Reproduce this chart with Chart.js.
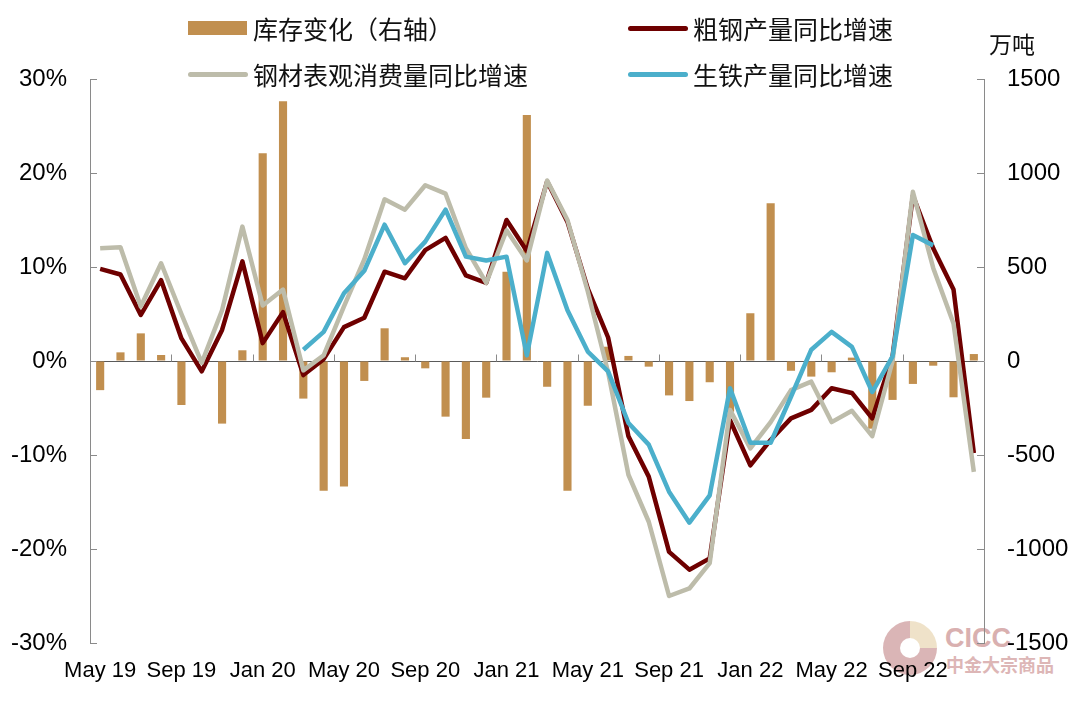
<!DOCTYPE html>
<html>
<head>
<meta charset="utf-8">
<script src="https://cdn.jsdelivr.net/npm/chart.js@4.4.1/dist/chart.umd.min.js"></script>
<style>
    html, body { margin: 0; padding: 0; background: #fff; }
    #wrap { position: relative; width: 1080px; height: 702px; overflow: hidden; }
    #myChart { position: absolute; left: 0; top: 0; }
    .lg { position: absolute; height: 30px; display: flex; align-items: center; white-space: nowrap;
          font: 25px "Noto Sans CJK SC", sans-serif; color: #111; }
    .lg i { display: inline-block; margin-right: 6px; }
    .unit { position: absolute; left: 989px; top: 26px; font: 23px "Noto Sans CJK SC", sans-serif; color: #111; }
    .logo { position: absolute; left: 883px; top: 621px; width: 54px; height: 54px; border-radius: 50%;
            background: conic-gradient(#ecdcbc 0 25%, #d2a3a5 25% 100%); opacity: .8; }
    .logo b { position: absolute; left: 17px; top: 17px; width: 20px; height: 20px; border-radius: 50%; background: #fff; }
    .wm1 { position: absolute; left: 945px; top: 623px; font: bold 27px "Liberation Sans", sans-serif; color: #d9b0b0; }
    .wm2 { position: absolute; left: 946px; top: 651px; font: bold 18px "Noto Sans CJK SC", sans-serif; color: #ddb6b6; }
</style>
</head>
<body>
<div id="wrap">
    <div class="logo"><b></b></div>
    <div class="wm1">CICC</div>
    <div class="wm2">中金大宗商品</div>
    <canvas id="myChart" width="1080" height="702"></canvas>
    <div class="unit">万吨</div>
</div>
<script>
    "use strict";

    // months, May 19 .. Dec 22
    const categories = [
        "May 19", "Jun 19", "Jul 19", "Aug 19", "Sep 19", "Oct 19", "Nov 19", "Dec 19",
        "Jan 20", "Feb 20", "Mar 20", "Apr 20", "May 20", "Jun 20", "Jul 20", "Aug 20",
        "Sep 20", "Oct 20", "Nov 20", "Dec 20", "Jan 21", "Feb 21", "Mar 21", "Apr 21",
        "May 21", "Jun 21", "Jul 21", "Aug 21", "Sep 21", "Oct 21", "Nov 21", "Dec 21",
        "Jan 22", "Feb 22", "Mar 22", "Apr 22", "May 22", "Jun 22", "Jul 22", "Aug 22",
        "Sep 22", "Oct 22", "Nov 22", "Dec 22"
    ];

    // 库存变化 (万吨, right axis)
    const stockChange = [
        -155, 46, 147, 32, -234, 0, -333, 57, 1105, 1381, -200, -690, -668, -106, 174, 20,
        -39, -296, -415, -195, 475, 1309, -137, -690, -238, 76, 27, -30, -183, -213, -113, -270,
        254, 839, -52, -83, -60, 18, -360, -207, -122, -25, -193, 37
    ];

    // 粗钢产量同比增速 (%)
    const crudeSteel = [
        9.8, 9.2, 4.9, 8.6, 2.4, -1.1, 3.3, 10.6, 1.9, 5.2, -1.5, 0.2, 3.6, 4.6, 9.5, 8.8,
        11.8, 13.1, 9.1, 8.3, 15.0, 11.7, 19.1, 14.8, 7.7, 2.5, -8.0, -12.3, -20.3, -22.2, -21.0, -6.3,
        -11.1, -8.4, -6.1, -5.2, -2.9, -3.4, -6.1, 0.5, 17.6, 12.0, 7.6, -9.8
    ];

    // 钢材表观消费量同比增速 (%)
    const steelConsumption = [
        12.0, 12.1, 5.8, 10.4, 5.0, -0.2, 5.4, 14.3, 5.9, 7.6, -1.0, 0.6, 5.8, 10.8, 17.2, 16.1,
        18.7, 17.8, 12.0, 8.3, 13.9, 10.7, 19.2, 15.0, 7.4, -1.2, -12.1, -17.1, -25.0, -24.2, -21.5, -5.2,
        -9.3, -6.5, -3.1, -2.2, -6.5, -5.3, -8.0, 0.0, 18.0, 9.9, 4.0, -11.8
    ];

    // 生铁产量同比增速 (%)
    const pigIron = [
        null, null, null, null, null, null, null, null, null, null, 1.2, 3.1, 7.2, 9.6, 14.5, 10.4,
        12.7, 16.1, 11.1, 10.7, 11.1, 0.6, 11.5, 5.4, 1.0, -1.1, -6.6, -8.9, -13.9, -17.2, -14.3, -2.9,
        -8.7, -8.7, -3.8, 1.2, 3.1, 1.5, -3.3, 0.5, 13.4, 12.3, null, null
    ];

    const leftTicks = [-30, -20, -10, 0, 10, 20, 30];
    const rightTicks = [-1500, -1000, -500, 0, 500, 1000, 1500];

    const colors = {
        bar: "#c18f4f",
        crude: "#6e0000",
        consumption: "#bdbcaa",
        iron: "#4bafcb",
        axis: "#8a8a8a",
        zero: "#5a5a5a"
    };

    const xFont = { family: "'Liberation Sans', Arial, sans-serif", size: 22 };
    const yFont = { family: "'Liberation Sans', Arial, sans-serif", size: 24 };

    // tick marks pointing into the plot, like the original
    const inwardTicks = {
        id: "inwardTicks",
        beforeDatasetsDraw(chart) {
            const c = chart.ctx, a = chart.chartArea;
            const x = chart.scales.x, y = chart.scales.y, y2 = chart.scales.y2;
            const len = 7;
            c.save();
            c.lineWidth = 1;
            c.strokeStyle = colors.axis;
            c.beginPath();
            leftTicks.forEach(function (v) {
                const py = Math.round(y.getPixelForValue(v)) + 0.5;
                c.moveTo(a.left, py); c.lineTo(a.left + len, py);
            });
            rightTicks.forEach(function (v) {
                const py = Math.round(y2.getPixelForValue(v)) + 0.5;
                c.moveTo(a.right - len, py); c.lineTo(a.right, py);
            });
            const zy = Math.round(y.getPixelForValue(0)) + 0.5;
            for (let i = 4; i < categories.length; i += 4) {
                const px = Math.round(x.getPixelForValue(i - 0.5)) + 0.5;
                c.moveTo(px, zy); c.lineTo(px, zy - len);
            }
            c.stroke();
            c.restore();
        }
    };

    function lineSet(label, data, color, order) {
        return {
            type: "line",
            label: label,
            data: data,
            yAxisID: "y",
            borderColor: color,
            backgroundColor: color,
            borderWidth: 4.5,
            pointRadius: 0,
            tension: 0,
            borderJoinStyle: "round",
            borderCapStyle: "butt",
            order: order
        };
    }

    const datasets = [
        {
            type: "bar",
            label: "库存变化（右轴）",
            data: stockChange,
            yAxisID: "y2",
            backgroundColor: colors.bar,
            barPercentage: 0.4,
            categoryPercentage: 1,
            order: 4
        },
        lineSet("粗钢产量同比增速", crudeSteel, colors.crude, 3),
        lineSet("钢材表观消费量同比增速", steelConsumption, colors.consumption, 2),
        lineSet("生铁产量同比增速", pigIron, colors.iron, 1)
    ];

    // html legend, 2 x 2 like the original
    const legendPos = [[188, 13], [628, 13], [188, 59], [628, 59]];
    const wrap = document.getElementById("wrap");
    datasets.forEach(function (ds, i) {
        const item = document.createElement("div");
        item.className = "lg";
        item.style.left = legendPos[i][0] + "px";
        item.style.top = legendPos[i][1] + "px";
        const sw = document.createElement("i");
        if (ds.type === "bar") {
            sw.style.cssText = "width:59px;height:14px;margin-right:6px;background:" + ds.backgroundColor;
        } else {
            sw.style.cssText = "width:60px;height:5px;border-radius:3px;margin:0 5px 0 0;background:" + ds.borderColor;
        }
        item.appendChild(sw);
        item.appendChild(document.createTextNode(ds.label));
        wrap.appendChild(item);
    });

    const ctx = document.getElementById("myChart").getContext("2d");
    const myChart = new Chart(ctx, {
        type: "bar",
        data: { labels: categories, datasets: datasets },
        options: {
            responsive: false,
            animation: false,
            devicePixelRatio: 1,
            layout: { padding: { top: 79, left: 0, right: 0, bottom: 0 } },
            plugins: {
                legend: { display: false },
                tooltip: { enabled: false }
            },
            scales: {
                x: {
                    offset: true,
                    grid: { display: false },
                    border: { display: false },
                    ticks: {
                        autoSkip: false,
                        maxRotation: 0,
                        color: "#000",
                        font: xFont,
                        padding: 7,
                        callback: function (val, idx) {
                            return idx % 4 === 0 ? categories[idx] : "";
                        }
                    },
                    afterFit: function (s) { s.height = 59; }
                },
                y: {
                    position: "left",
                    min: -30,
                    max: 30,
                    afterBuildTicks: function (s) { s.ticks = leftTicks.map(function (v) { return { value: v }; }); },
                    grid: {
                        drawTicks: false,
                        color: function (c) { return c.tick && c.tick.value === 0 ? colors.zero : "rgba(0,0,0,0)"; }
                    },
                    border: { display: true, color: colors.axis, width: 1 },
                    ticks: {
                        color: "#000",
                        font: yFont,
                        padding: 23,
                        callback: function (v) { return v + "%"; }
                    },
                    afterFit: function (s) { s.width = 90; }
                },
                y2: {
                    position: "right",
                    min: -1500,
                    max: 1500,
                    afterBuildTicks: function (s) { s.ticks = rightTicks.map(function (v) { return { value: v }; }); },
                    grid: { drawOnChartArea: false, drawTicks: false },
                    border: { display: true, color: colors.axis, width: 1 },
                    ticks: {
                        color: "#000",
                        font: yFont,
                        padding: 23,
                        callback: function (v) { return String(v); }
                    },
                    afterFit: function (s) { s.width = 96; }
                }
            }
        },
        plugins: [inwardTicks]
    });
</script>
</body>
</html>
